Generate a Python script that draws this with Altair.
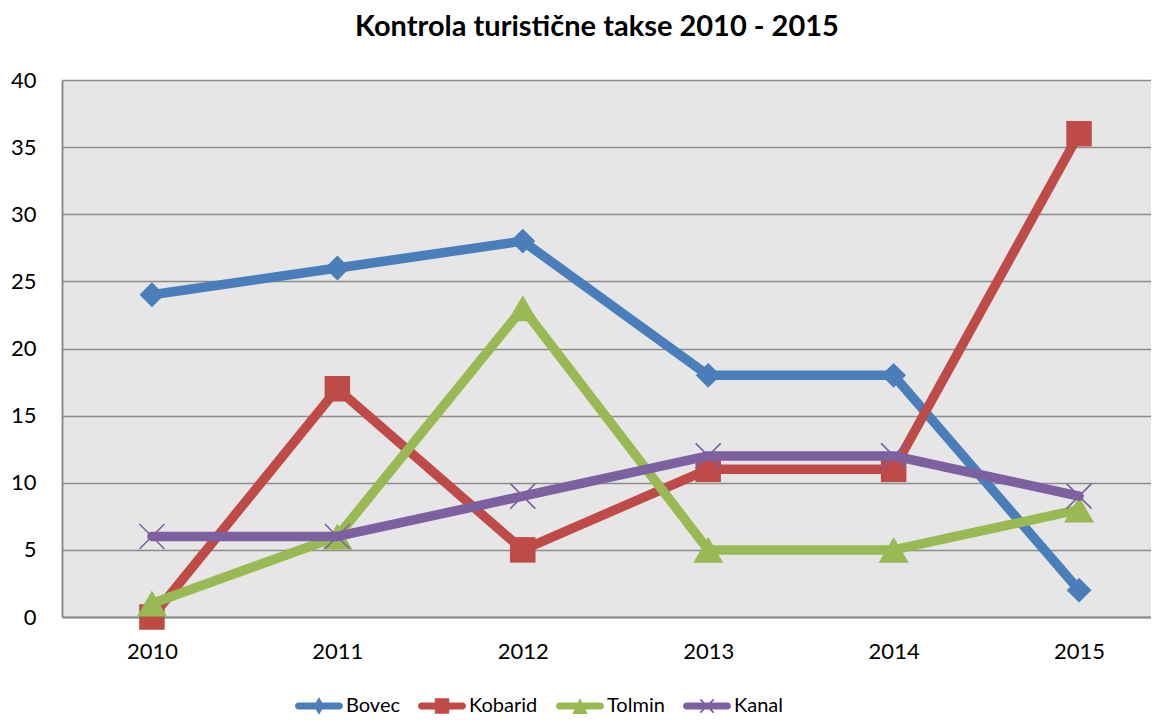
import altair as alt
import pandas as pd

# ---- data ----
years = [2010, 2011, 2012, 2013, 2014, 2015]
series = ["Bovec", "Kobarid", "Tolmin", "Kanal"]
bovec = [24, 26, 28, 18, 18, 2]
kobarid = [0, 17, 5, 11, 11, 36]
tolmin = [1, 6, 23, 5, 5, 8]
kanal = [6, 6, 9, 12, 12, 9]
y_ticks = [0, 5, 10, 15, 20, 25, 30, 35, 40]
title_text = "Kontrola turistične takse 2010 - 2015"

# ---- styling ----
colors = ["#4A7EBB", "#BE4B48", "#98B954", "#7D60A0"]
plot_marker = {
    "Bovec": dict(shape="diamond", size=620, filled=True),
    "Kobarid": dict(shape="square", size=650, filled=True),
    "Tolmin": dict(shape="triangle-up", size=900, filled=True),
    "Kanal": dict(shape="M-1,-1L1,1M-1,1L1,-1", size=625, filled=False),
}
bar = ("M-0.854,-0.146L0.854,-0.146A0.146,0.146,0,0,1,0.854,0.146"
       "L-0.854,0.146A0.146,0.146,0,0,1,-0.854,-0.146Z")
t = 0.025
a = 0.28
legend_paths = [
    bar + "M0,-0.36L0.22,0L0,0.36L-0.22,0Z",
    bar + "M-0.3,-0.32L0.3,-0.32L0.3,0.32L-0.3,0.32Z",
    bar + "M0,-0.33L0.32,0.33L-0.32,0.33Z",
    bar + (f"M{-a+t},{-a-t}L{a+t},{a-t}L{a-t},{a+t}L{-a-t},{-a+t}Z"
           f"M{-a-t},{a-t}L{a-t},{-a-t}L{a+t},{-a+t}L{-a+t},{a+t}Z"),
]

vals = {"Bovec": bovec, "Kobarid": kobarid, "Tolmin": tolmin, "Kanal": kanal}
rows = []
for s in series:
    for yr, v in zip(years, vals[s]):
        rows.append({"Year": yr, "Series": s, "Value": v})
df = pd.DataFrame(rows)

FONT = "Lato"
base = alt.Chart(df)

x = alt.X("Year:Q",
          scale=alt.Scale(domain=[2009.515, 2015.388], nice=False, zero=False),
          axis=alt.Axis(values=years, format="d", grid=False, title=None,
                        labelPadding=24, ticks=False))
y = alt.Y("Value:Q",
          scale=alt.Scale(domain=[0, 40], nice=False),
          axis=alt.Axis(values=y_ticks, grid=True, title=None,
                        labelPadding=26, ticks=False))

layers = []
for s, c in zip(series, colors):
    sub = base.transform_filter(alt.datum.Series == s)
    layers.append(sub.mark_line(strokeWidth=9.5, strokeJoin="round", strokeCap="round",
                                color=c)
                  .encode(x=x, y=y))
    m = plot_marker[s]
    layers.append(sub.mark_point(shape=m["shape"], size=m["size"], filled=m["filled"],
                                 opacity=1, strokeWidth=1.6, color=c)
                  .encode(x=x, y=y))

leg = dict(orient="none", legendX=233, legendY=602, direction="horizontal",
           title=None, labelFont=FONT, labelFontSize=20, labelColor="black",
           symbolSize=2304, symbolStrokeWidth=0, labelOffset=3,
           columnPadding=18, padding=0, symbolOpacity=1)
legend_layer = (base.transform_filter("datum.Value < 0")
                .mark_point(filled=True, opacity=1, size=2304)
                .encode(x=x, y=y,
                        color=alt.Color("Series:N", scale=alt.Scale(domain=series, range=colors),
                                        legend=alt.Legend(**leg)),
                        shape=alt.Shape("Series:N", scale=alt.Scale(domain=series, range=legend_paths),
                                        legend=alt.Legend(**leg))))
layers.append(legend_layer)

chart = (alt.layer(*layers)
         .properties(width=1089, height=537,
                     title=alt.Title(title_text, font=FONT, fontSize=29, fontWeight="bold",
                                     color="black", anchor="middle", offset=27, dx=-9.5),
                     autosize=alt.AutoSizeParams(type="none"),
                     padding={"left": 54, "top": 72, "right": 0, "bottom": 103})
         .configure_view(fill="#E6E6E6", stroke="transparent")
         .configure_axis(domainColor="#8C8C8C", domainWidth=2, gridColor="#8C8C8C",
                         gridWidth=1.5, labelFont=FONT, labelFontSize=22, labelColor="black"))

chart.save("out.html", embed_options={"renderer": "svg", "actions": False})
